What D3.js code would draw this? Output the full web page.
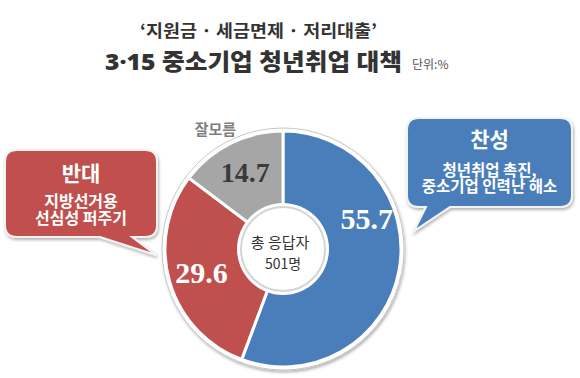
<!DOCTYPE html>
<html>
<head>
<meta charset="utf-8">
<script src="https://cdn.jsdelivr.net/npm/d3@7"></script>
<style>
  body { margin: 0; background: #fff; }
  svg { display: block; }
  .body-lines { font-family: 'Noto Sans CJK KR', 'Noto Sans', sans-serif; font-weight: 700;
                color: #fff; text-align: center; white-space: pre; }
</style>
</head>
<body>
<svg id="chart" width="580" height="378"></svg>
<script>
// survey result (%), clockwise from 12 o'clock
const categories = ["찬성", "반대", "잘모름"];
const values = [55.7, 29.6, 14.7];
const respondents = ["총 응답자", "501명"];

const titleLines = ["‘지원금 · 세금면제 · 저리대출’", "3·15 중소기업 청년취업 대책"];
const unitLabel = "단위:%";

const calloutYes = ["찬성", "청년취업 촉진,", "중소기업 인력난 해소"];
const calloutNo = ["반대", "지방선거용", "선심성 퍼주기"];

const data = categories.map((name, i) => ({ name: name, value: values[i] }));

const width = 580, height = 378;
const cx = 283, cy = 249;
const outer = 118, hole = 42;
const kr = "'Noto Sans CJK KR', 'Noto Sans', sans-serif";
const num = "'Liberation Serif', 'DejaVu Serif', serif";

const svg = d3.select("#chart");

const defs = svg.append("defs");
const shadow = defs.append("filter").attr("id", "shadow")
    .attr("x", "-10%").attr("y", "-10%").attr("width", "130%").attr("height", "130%");
shadow.append("feDropShadow")
    .attr("dx", 1).attr("dy", 2).attr("stdDeviation", 1.5)
    .attr("flood-color", "#000").attr("flood-opacity", 0.3);

const color = d3.scaleOrdinal()
    .domain(categories)
    .range(["#4a7ebb", "#c0504d", "#a6a6a6"]);

// title
svg.append("text")
    .attr("x", 140).attr("y", 37)
    .attr("font-family", kr).attr("font-weight", 700).attr("font-size", 17)
    .attr("fill", "#333")
    .attr("textLength", 237).attr("lengthAdjust", "spacingAndGlyphs")
    .text(titleLines[0]);

svg.append("text")
    .attr("x", 105).attr("y", 70)
    .attr("font-family", "'Noto Sans', 'Noto Sans CJK KR', sans-serif")
    .attr("font-weight", 900).attr("font-size", 23)
    .attr("fill", "#333")
    .attr("textLength", 297).attr("lengthAdjust", "spacingAndGlyphs")
    .text(titleLines[1]);

svg.append("text")
    .attr("x", 412).attr("y", 69)
    .attr("font-family", kr).attr("font-size", 12)
    .attr("fill", "#555")
    .text(unitLabel);

// donut
const pie = d3.pie().sort(null).value(d => d.value);
const arcs = pie(data);
const arc = d3.arc().innerRadius(0).outerRadius(outer);

const g = svg.append("g").attr("transform", `translate(${cx},${cy})`);

g.append("circle")
    .attr("r", outer + 3)
    .attr("fill", "#fff")
    .attr("stroke", "#c8c8c8")
    .attr("stroke-width", 1)
    .attr("filter", "url(#shadow)");

g.selectAll("path")
    .data(arcs)
    .join("path")
    .attr("d", arc)
    .attr("fill", d => color(d.data.name))
    .attr("stroke", "#fff")
    .attr("stroke-width", 3);

g.append("circle")
    .attr("r", hole + 4)
    .attr("fill", "#fff");
g.append("circle")
    .attr("r", hole)
    .attr("fill", "#fff")
    .attr("stroke", "#d4d4d4")
    .attr("stroke-width", 2);

// value labels
const midAngle = d => d.data.name === "찬성"
    ? d.startAngle + (d.endAngle - d.startAngle) * 0.35
    : (d.startAngle + d.endAngle) / 2;
const polar = (a, r) => [r * Math.sin(a), -r * Math.cos(a)];

g.selectAll("text.val")
    .data(arcs)
    .join("text")
    .attr("class", "val")
    .attr("transform", d => `translate(${polar(midAngle(d), d.data.name === "찬성" ? 89 : 85)})`)
    .attr("text-anchor", "middle")
    .attr("dominant-baseline", "central")
    .attr("font-family", num)
    .attr("font-weight", 700)
    .attr("font-size", d => d.data.name === "잘모름" ? 28 : 30)
    .attr("fill", d => d.data.name === "잘모름" ? "#3a3a3a" : "#fff")
    .text(d => d.data.value.toFixed(1));

// category label outside the small slice
g.selectAll("text.cat")
    .data(arcs.filter(d => d.data.name === "잘모름"))
    .join("text")
    .attr("class", "cat")
    .attr("transform", d => `translate(${polar((d.startAngle + d.endAngle) / 2 - 0.05, 138)})`)
    .attr("text-anchor", "middle")
    .attr("dominant-baseline", "central")
    .attr("font-family", kr).attr("font-weight", 700).attr("font-size", 15)
    .attr("fill", "#7f7f7f")
    .text(d => d.data.name);

// centre text
g.append("text")
    .attr("x", -3).attr("y", -8)
    .attr("text-anchor", "middle").attr("dominant-baseline", "central")
    .attr("font-family", kr).attr("font-size", 15).attr("fill", "#333")
    .text(respondents[0]);
g.append("text")
    .attr("x", 0).attr("y", 14)
    .attr("text-anchor", "middle").attr("dominant-baseline", "central")
    .attr("font-family", kr).attr("font-size", 14).attr("fill", "#333")
    .text(respondents[1]);

// speech-bubble callouts
function bubble(x0, y0, w, h, tail, fill, lines, headY, bodyTop, gap, bodySize) {
    const r = 12;
    const [t1, t2, tx, ty] = tail;
    const p = d3.path();
    p.moveTo(x0 + r, y0);
    p.lineTo(x0 + w - r, y0);
    p.quadraticCurveTo(x0 + w, y0, x0 + w, y0 + r);
    p.lineTo(x0 + w, y0 + h - r);
    p.quadraticCurveTo(x0 + w, y0 + h, x0 + w - r, y0 + h);
    p.lineTo(t2, y0 + h);
    p.lineTo(tx, ty);
    p.lineTo(t1, y0 + h);
    p.lineTo(x0 + r, y0 + h);
    p.quadraticCurveTo(x0, y0 + h, x0, y0 + h - r);
    p.lineTo(x0, y0 + r);
    p.quadraticCurveTo(x0, y0, x0 + r, y0);
    p.closePath();

    const b = svg.append("g");
    b.append("path")
        .attr("d", p.toString())
        .attr("fill", fill)
        .attr("stroke", "#f2f2f2")
        .attr("stroke-width", 2)
        .attr("filter", "url(#shadow)");
    const mx = x0 + w / 2;
    b.append("text")
        .attr("x", mx).attr("y", y0 + headY)
        .attr("text-anchor", "middle").attr("dominant-baseline", "central")
        .attr("font-family", kr).attr("font-weight", 700).attr("font-size", 21)
        .attr("fill", "#fff")
        .text(lines[0]);
    b.append("foreignObject")
        .attr("x", x0).attr("y", y0 + bodyTop)
        .attr("width", w).attr("height", gap * 2 + 4)
        .append("xhtml:div")
        .attr("class", "body-lines")
        .style("font-size", bodySize + "px")
        .style("line-height", gap + "px")
        .text(lines.slice(1).join("\n"));
}

bubble(407, 118, 165, 89, [426, 450, 414, 231], "#4a7ebb", calloutYes, 20, 44, 15.5, 15.5);
bubble(5, 150, 152, 87, [100, 132, 156, 255], "#c0504d", calloutNo, 22, 42, 16.5, 16);
</script>
</body>
</html>
